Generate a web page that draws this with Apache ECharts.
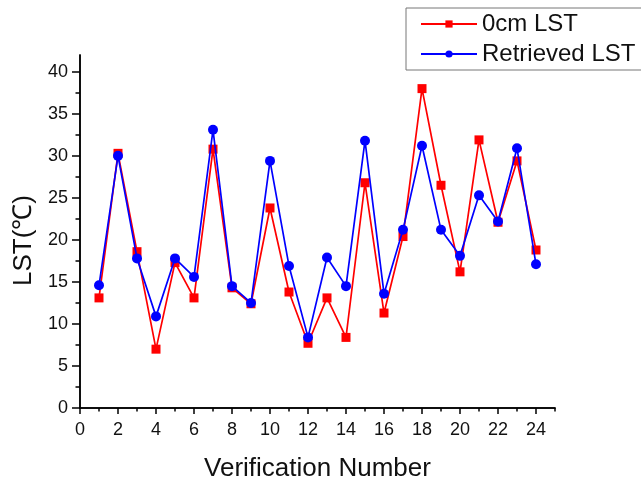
<!DOCTYPE html>
<html>
<head>
<meta charset="utf-8">
<script src="https://cdn.jsdelivr.net/npm/echarts@6/dist/echarts.min.js"></script>
<style>html,body{margin:0;padding:0;background:#fff}#c{width:641px;height:480px}</style>
</head>
<body>
<div id="c"></div>
<script>
var verificationNumbers = [1,2,3,4,5,6,7,8,9,10,11,12,13,14,15,16,17,18,19,20,21,22,23,24];
var lst0cm = [13.1, 30.3, 18.6, 7.0, 17.3, 13.1, 30.8, 14.3, 12.4, 23.8, 13.8, 7.7, 13.1, 8.4, 26.8, 11.3, 20.4, 38.0, 26.5, 16.2, 31.9, 22.1, 29.4, 18.8];
var lstRetrieved = [14.6, 30.0, 17.8, 10.9, 17.8, 15.6, 33.1, 14.5, 12.5, 29.4, 16.9, 8.4, 17.9, 14.5, 31.8, 13.6, 21.2, 31.2, 21.2, 18.1, 25.3, 22.2, 30.9, 17.1];
var xMajorTicks = [0,2,4,6,8,10,12,14,16,18,20,22,24];
var xMinorTicks = [1,3,5,7,9,11,13,15,17,19,21,23,25];
var yMajorTicks = [0,5,10,15,20,25,30,35,40];
var yMinorTicks = [2.5,7.5,12.5,17.5,22.5,27.5,32.5,37.5];
var seriesNames = ['0cm LST', 'Retrieved LST'];

var FONT = '"Liberation Sans", Arial, sans-serif';
var axisLineStyle = {color: '#000', width: 1.5};

function pairs(xs, ys) { return xs.map(function (x, i) { return [x, ys[i]]; }); }

var chart = echarts.init(document.getElementById('c'), null, {renderer: 'canvas'});
chart.setOption({
  animation: false,
  backgroundColor: '#fff',
  textStyle: {fontFamily: FONT},
  grid: {left: 80, right: 86, top: 55, bottom: 72, containLabel: false, outerBoundsMode: 'none'},
  legend: {
    orient: 'vertical',
    left: 406, top: 8,
    padding: [4, 10, 4, 14],
    itemGap: 6,
    itemWidth: 56, itemHeight: 9,
    borderColor: '#777', borderWidth: 1,
    textStyle: {fontFamily: FONT, fontSize: 24, color: '#111'},
    data: seriesNames
  },
  xAxis: [{
    type: 'value', min: 0, max: 25, position: 'bottom',
    name: 'Verification Number', nameLocation: 'middle', nameGap: 48,
    nameTextStyle: {fontFamily: FONT, fontSize: 26, color: '#111'},
    axisLine: {show: true, onZero: false, lineStyle: axisLineStyle},
    axisTick: {show: true, inside: false, length: 6, customValues: xMajorTicks, lineStyle: axisLineStyle},
    axisLabel: {fontFamily: FONT, fontSize: 18, color: '#111', margin: 13, customValues: xMajorTicks},
    splitLine: {show: false}
  }, {
    type: 'value', min: 0, max: 25, position: 'bottom', offset: 0,
    axisLine: {show: true, onZero: false, lineStyle: axisLineStyle},
    axisTick: {show: true, inside: false, length: 3.5, customValues: xMinorTicks, lineStyle: axisLineStyle},
    axisLabel: {show: false},
    splitLine: {show: false}
  }],
  yAxis: [{
    type: 'value', min: 0, max: 42, position: 'left',
    name: 'LST(℃)', nameLocation: 'middle', nameGap: 43, nameRotate: 90,
    nameTextStyle: {fontFamily: FONT, fontSize: 26, color: '#111', padding: [0, 18, 0, 0]},
    axisLine: {show: true, onZero: false, lineStyle: axisLineStyle},
    axisTick: {show: true, inside: false, length: 8, customValues: yMajorTicks, lineStyle: axisLineStyle},
    axisLabel: {fontFamily: FONT, fontSize: 18, color: '#111', margin: 12, customValues: yMajorTicks},
    splitLine: {show: false}
  }, {
    type: 'value', min: 0, max: 42, position: 'left', offset: 0,
    axisLine: {show: true, onZero: false, lineStyle: axisLineStyle},
    axisTick: {show: true, inside: false, length: 4.5, customValues: yMinorTicks, lineStyle: axisLineStyle},
    axisLabel: {show: false},
    splitLine: {show: false}
  }],
  series: [{
    name: seriesNames[0], type: 'line', xAxisIndex: 0, yAxisIndex: 0,
    data: pairs(verificationNumbers, lst0cm),
    symbol: 'rect', symbolSize: 9,
    itemStyle: {color: '#ff0000'},
    lineStyle: {color: '#ff0000', width: 1.7},
    z: 2
  }, {
    name: seriesNames[1], type: 'line', xAxisIndex: 0, yAxisIndex: 0,
    data: pairs(verificationNumbers, lstRetrieved),
    symbol: 'circle', symbolSize: 10,
    itemStyle: {color: '#0000ff'},
    lineStyle: {color: '#0000ff', width: 1.7},
    z: 3
  }]
});
</script>
</body>
</html>
